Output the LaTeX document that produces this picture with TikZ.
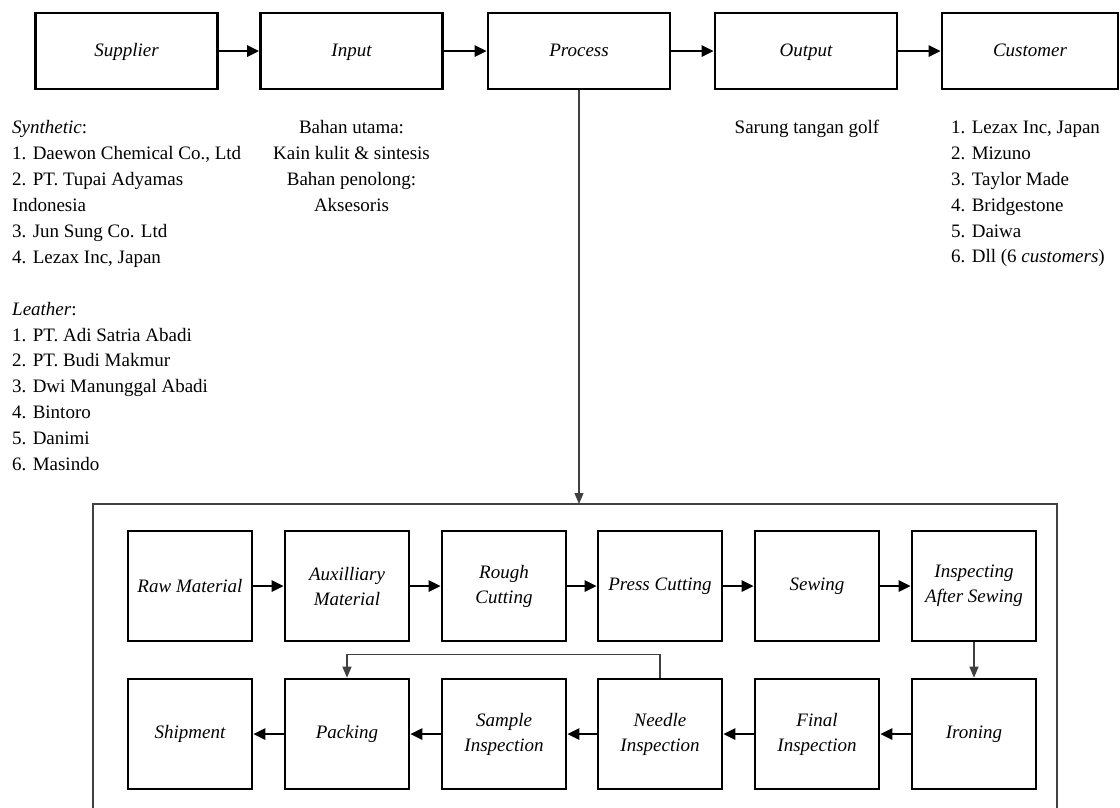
\documentclass[tikz,border=0pt]{standalone}
\usepackage{fontspec}
\setmainfont{Liberation Serif}
\usetikzlibrary{arrows.meta}

\begin{document}
\begin{tikzpicture}[x=1pt,y=-1pt,
  txt/.style={inner sep=0pt, font=\fontsize{19}{25.9}\selectfont},
  topbox/.style={draw, line width=2.6pt, minimum width=182pt, minimum height=76pt,
    inner sep=0pt, text height=14pt, text depth=3pt, font=\fontsize{19}{25}\selectfont\itshape},
  stagebox/.style={draw, line width=2.6pt, minimum width=124pt, minimum height=110pt,
    inner sep=0pt, align=center, font=\fontsize{19}{25}\selectfont\itshape},
  flow/.style={line width=2.6pt, -{Triangle[length=12pt,width=11pt]}},
  link/.style={line width=1.2pt, draw=black!75, -{Triangle[length=11pt,width=9pt]}},
  link plain/.style={line width=1.2pt, draw=black!75},
]
\useasboundingbox (0,0) rectangle (1120,807);
\clip (0,0) rectangle (1120,807);

% main value chain
\node[topbox] (supplier) at (126.5,51) {Supplier};
\node[topbox] (input)    at (351.5,51) {Input};
\node[topbox] (process)  at (579,51)   {Process};
\node[topbox] (output)   at (806,51)   {Output};
\node[topbox, minimum width=176pt] (customer) at (1030,51) {Customer};

\draw[flow] (supplier) -- (input);
\draw[flow] (input) -- (process);
\draw[flow] (process) -- (output);
\draw[flow] (output) -- (customer);

% descriptions under the chain
\node[txt, anchor=north west, align=left] (supplist) at (12,120.5)
  {\textit{Synthetic}:\\
   1. Daewon Chemical Co., Ltd\\
   2. PT. Tupai Adyamas\\
   Indonesia\\
   3. Jun Sung Co. Ltd\\
   4. Lezax Inc, Japan\\[25.9pt]
   \textit{Leather}:\\
   1. PT. Adi Satria Abadi\\
   2. PT. Budi Makmur\\
   3. Dwi Manunggal Abadi\\
   4. Bintoro\\
   5. Danimi\\
   6. Masindo};
\node[txt, anchor=north, align=center] (inputlist) at (351.5,120.5)
  {Bahan utama:\\
   Kain kulit \& sintesis\\
   Bahan penolong:\\
   Aksesoris};
\node[txt, anchor=base] (outputlist) at (807,133.5) {Sarung tangan golf};
\node[txt, anchor=north west, align=left] (custlist) at (951,120.7)
  {1. Lezax Inc, Japan\\
   2. Mizuno\\
   3. Taylor Made\\
   4. Bridgestone\\
   5. Daiwa\\
   6. Dll (6 \textit{customers})};

% production process frame
\coordinate (frameTL) at (93,504);
\coordinate (frameTR) at (1057,504);
\coordinate (frameBL) at (93,820);
\coordinate (frameBR) at (1057,820);
\draw[link plain] (frameBL) -- (frameTL) -- (frameTR) -- (frameBR);
\draw[link] (process.south) -- (process.south |- frameTL);

% first row of stages
\node[stagebox] (raw)   at (190,586) {Raw Material};
\node[stagebox] (aux)   at (347,586) {Auxilliary\\Material};
\node[stagebox] (rough) at (504,586) {Rough\\Cutting};
\node[stagebox] (press) at (660,586) {Press Cutting};
\node[stagebox] (sew)   at (817,586) {Sewing};
\node[stagebox] (insp)  at (974,586) {Inspecting\\After Sewing};

% second row of stages
\node[stagebox] (ship)   at (190,734) {Shipment};
\node[stagebox] (pack)   at (347,734) {Packing};
\node[stagebox] (sample) at (504,734) {Sample\\Inspection};
\node[stagebox] (needle) at (660,734) {Needle\\Inspection};
\node[stagebox] (final)  at (817,734) {Final\\Inspection};
\node[stagebox] (iron)   at (974,734) {Ironing};

\draw[flow] (raw) -- (aux);
\draw[flow] (aux) -- (rough);
\draw[flow] (rough) -- (press);
\draw[flow] (press) -- (sew);
\draw[flow] (sew) -- (insp);
\draw[link] (insp) -- (iron);
\draw[flow] (iron) -- (final);
\draw[flow] (final) -- (needle);
\draw[flow] (needle) -- (sample);
\draw[flow] (sample) -- (pack);
\draw[flow] (pack) -- (ship);
\draw[link] (needle.north) -- ++(0,-23) -| (pack.north);
\end{tikzpicture}
\end{document}
